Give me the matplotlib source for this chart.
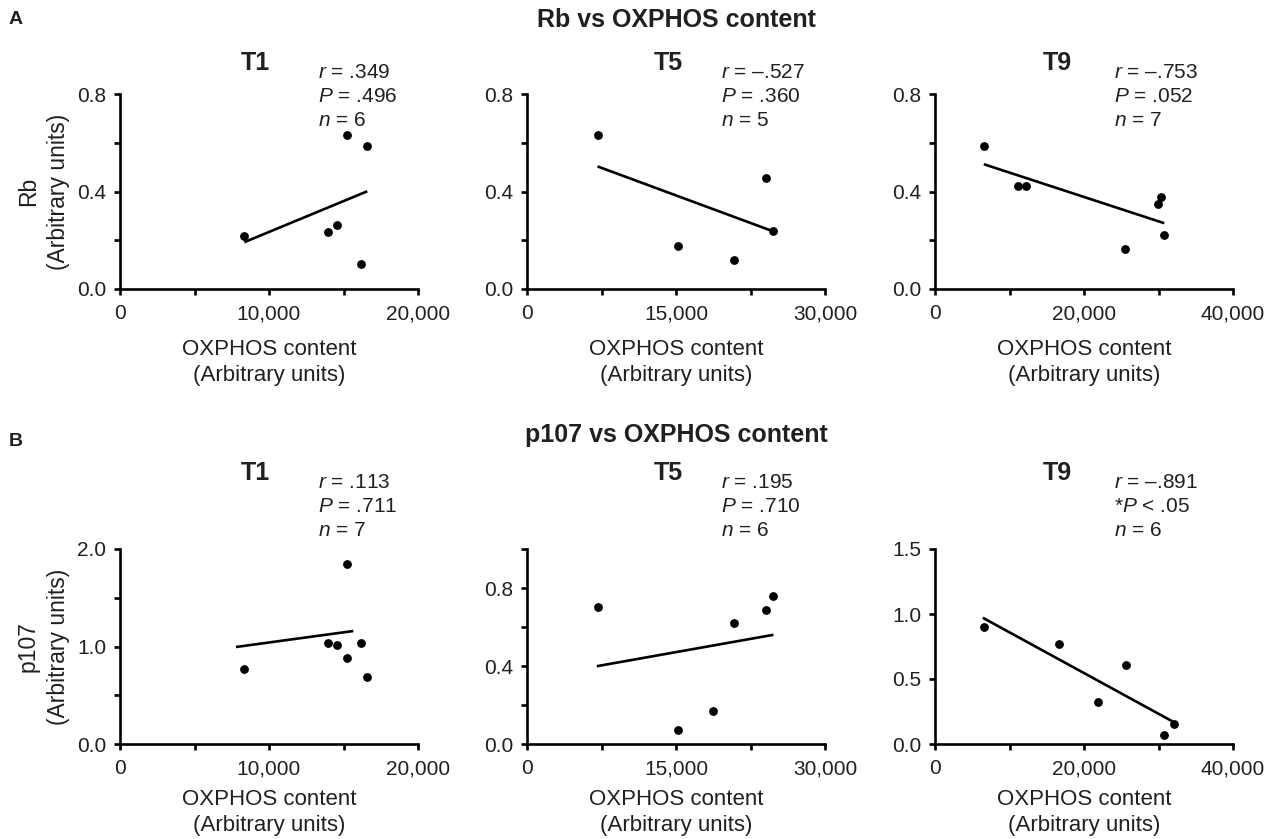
import matplotlib
matplotlib.use("Agg")
import matplotlib.pyplot as plt
from matplotlib.ticker import FixedLocator, FuncFormatter

plt.rcParams["font.family"] = ["Liberation Sans", "DejaVu Sans"]
plt.rcParams["mathtext.fontset"] = "custom"
plt.rcParams["mathtext.rm"] = "Liberation Sans"
plt.rcParams["mathtext.it"] = "Liberation Sans:italic"

INK = "#231f20"
DASH = "\u2013"
W, H = 1272, 839

# ---- data ----
rb_t1_x = [8320, 13980, 14540, 15210, 16150, 16600]
rb_t1_y = [0.217, 0.233, 0.263, 0.633, 0.104, 0.587]
rb_t1_fit_x = [8340, 16600]
rb_t1_fit_y = [0.192, 0.401]

rb_t5_x = [7100, 15200, 20830, 24040, 24750]
rb_t5_y = [0.633, 0.177, 0.118, 0.457, 0.237]
rb_t5_fit_x = [7100, 24750]
rb_t5_fit_y = [0.503, 0.237]

rb_t9_x = [6550, 11130, 12200, 25560, 29910, 30270, 30770]
rb_t9_y = [0.587, 0.424, 0.424, 0.164, 0.349, 0.379, 0.223]
rb_t9_fit_x = [6550, 30770]
rb_t9_fit_y = [0.512, 0.270]

p107_t1_x = [8345, 13980, 14540, 15215, 15255, 16150, 16560]
p107_t1_y = [0.772, 1.040, 1.012, 0.878, 1.846, 1.036, 0.690]
p107_t1_fit_x = [7785, 15660]
p107_t1_fit_y = [0.995, 1.159]

p107_t5_x = [7100, 15200, 18690, 20830, 24040, 24750]
p107_t5_y = [0.705, 0.071, 0.167, 0.618, 0.688, 0.758]
p107_t5_fit_x = [7030, 24810]
p107_t5_fit_y = [0.399, 0.560]

p107_t9_x = [6550, 16590, 21890, 25610, 30770, 32110]
p107_t9_y = [0.901, 0.770, 0.325, 0.605, 0.070, 0.157]
p107_t9_fit_x = [6420, 32000]
p107_t9_fit_y = [0.971, 0.170]

timepoints = ["T1", "T5", "T9"]
rb_stats = [
    [r"$\mathit{r}$ = .349", r"$\mathit{P}$ = .496", r"$\mathit{n}$ = 6"],
    [r"$\mathit{r}$ = " + DASH + ".527", r"$\mathit{P}$ = .360", r"$\mathit{n}$ = 5"],
    [r"$\mathit{r}$ = " + DASH + ".753", r"$\mathit{P}$ = .052", r"$\mathit{n}$ = 7"],
]
p107_stats = [
    [r"$\mathit{r}$ = .113", r"$\mathit{P}$ = .711", r"$\mathit{n}$ = 7"],
    [r"$\mathit{r}$ = .195", r"$\mathit{P}$ = .710", r"$\mathit{n}$ = 6"],
    [r"$\mathit{r}$ = " + DASH + ".891", r"*$\mathit{P}$ < .05", r"$\mathit{n}$ = 6"],
]

x_max = [20000, 30000, 40000]
x_ticks = [[0, 5000, 10000, 15000, 20000],
           [0, 7500, 15000, 22500, 30000],
           [0, 10000, 20000, 30000, 40000]]
x_labeled = [[0, 10000, 20000], [0, 15000, 30000], [0, 20000, 40000]]

rb_y_max = [0.8, 0.8, 0.8]
rb_y_ticks = [[0, 0.2, 0.4, 0.6, 0.8]] * 3
rb_y_labeled = [[0.0, 0.4, 0.8]] * 3

p107_y_max = [2.0, 1.0, 1.5]
p107_y_ticks = [[0, 0.5, 1.0, 1.5, 2.0], [0, 0.2, 0.4, 0.6, 0.8, 1.0], [0, 0.5, 1.0, 1.5]]
p107_y_labeled = [[0.0, 1.0, 2.0], [0.0, 0.4, 0.8], [0.0, 0.5, 1.0, 1.5]]

rows = [
    {
        "letter": "A", "title": "Rb vs OXPHOS content", "ylabel": "Rb",
        "xs": [rb_t1_x, rb_t5_x, rb_t9_x], "ys": [rb_t1_y, rb_t5_y, rb_t9_y],
        "fx": [rb_t1_fit_x, rb_t5_fit_x, rb_t9_fit_x],
        "fy": [rb_t1_fit_y, rb_t5_fit_y, rb_t9_fit_y],
        "stats": rb_stats, "ymax": rb_y_max, "yticks": rb_y_ticks, "ylab": rb_y_labeled,
    },
    {
        "letter": "B", "title": "p107 vs OXPHOS content", "ylabel": "p107",
        "xs": [p107_t1_x, p107_t5_x, p107_t9_x], "ys": [p107_t1_y, p107_t5_y, p107_t9_y],
        "fx": [p107_t1_fit_x, p107_t5_fit_x, p107_t9_fit_x],
        "fy": [p107_t1_fit_y, p107_t5_fit_y, p107_t9_fit_y],
        "stats": p107_stats, "ymax": p107_y_max, "yticks": p107_y_ticks, "ylab": p107_y_labeled,
    },
]

# ---- layout (pixels) ----
col_left = [120, 527, 935]
col_width = 298
row_top = [94, 549]
row_height = 195
title_x = [255, 668, 1057]
title_y = [63, 473]
stats_x = [318, 721, 1114]
stats_y = [[72, 96, 120], [483, 507, 531]]
xlabel_pad = [11, 8]
xlabel_spacing = [1.36, 1.28]


def fmt_x(labeled):
    return FuncFormatter(lambda v, _: f"{int(v):,}" if v in labeled else "")


def fmt_y(labeled):
    return FuncFormatter(lambda v, _: f"{v:.1f}" if any(abs(v - l) < 1e-9 for l in labeled) else "")


fig = plt.figure(figsize=(W / 100, H / 100), dpi=100)

for r, row in enumerate(rows):
    fig.text(9 / W, 1 - (20 + 421 * r) / H, row["letter"], fontsize=14,
             fontweight="bold", color=INK, va="center", ha="left")
    fig.text(676 / W, 1 - (20 + 415 * r) / H, row["title"], fontsize=18,
             fontweight="bold", color=INK, va="center", ha="center")
    for c in range(3):
        ax = fig.add_axes([col_left[c] / W, 1 - (row_top[r] + row_height) / H,
                           col_width / W, row_height / H])
        ax.plot(row["fx"][c], row["fy"][c], color="black", lw=1.9,
                solid_capstyle="butt", zorder=2)
        ax.scatter(row["xs"][c], row["ys"][c], s=40, color="black", zorder=3,
                   clip_on=False, linewidths=0)
        ax.set_xlim(0, x_max[c])
        ax.set_ylim(0, row["ymax"][c])
        for s in ["top", "right"]:
            ax.spines[s].set_visible(False)
        for s in ["left", "bottom"]:
            ax.spines[s].set_linewidth(1.9)
            ax.spines[s].set_color("black")
        ax.xaxis.set_major_locator(FixedLocator(x_ticks[c]))
        ax.xaxis.set_major_formatter(fmt_x(x_labeled[c]))
        ax.yaxis.set_major_locator(FixedLocator(row["yticks"][c]))
        ax.yaxis.set_major_formatter(fmt_y(row["ylab"][c]))
        ax.tick_params(direction="out", length=4, width=1.9, labelsize=15,
                       labelcolor=INK, color="black")
        ax.tick_params(axis="x", pad=7)
        ax.tick_params(axis="y", pad=6)
        ax.set_xlabel("OXPHOS content\n(Arbitrary units)", fontsize=16,
                      color=INK, labelpad=xlabel_pad[r], linespacing=xlabel_spacing[r])
        if c == 0:
            ax.set_ylabel(f"{row['ylabel']}\n(Arbitrary units)", fontsize=16.5,
                          color=INK, labelpad=5, linespacing=1.4)
        fig.text(title_x[c] / W, 1 - title_y[r] / H, timepoints[c], fontsize=18,
                 fontweight="bold", color=INK, va="center", ha="center")
        for k, line in enumerate(row["stats"][c]):
            fig.text(stats_x[c] / W, 1 - stats_y[r][k] / H, line, fontsize=15,
                     color=INK, va="center", ha="left")

fig.savefig("out.png", dpi=100)
